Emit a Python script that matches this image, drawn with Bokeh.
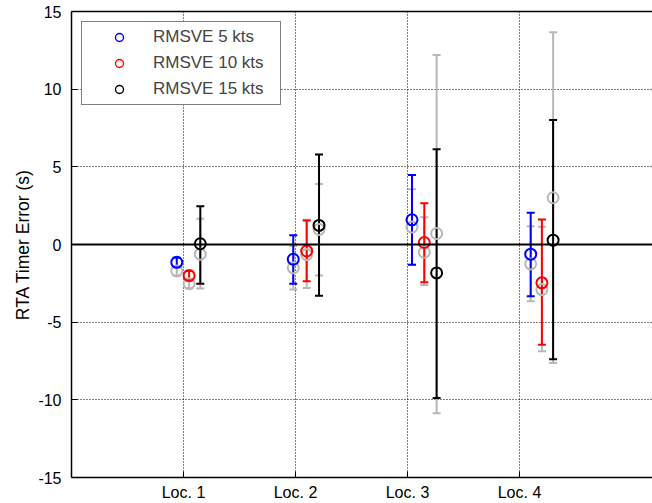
from bokeh.plotting import figure
from bokeh.models import (ColumnDataSource, Whisker, TeeHead, FixedTicker, Span,
                          LinearAxis, Legend, LegendItem, Range1d)
from bokeh.embed import file_html
from bokeh.resources import INLINE

# ---- data ----
loc_ticks = [1, 2, 3, 4]
loc_labels = ["Loc. 1", "Loc. 2", "Loc. 3", "Loc. 4"]
y_ticks = [-15, -10, -5, 0, 5, 10, 15]
y_tick_labels = ["-15", "-10", "-5", "0", "5", "10", "15"]

x5 = [0.94, 1.98, 3.04, 4.10]
x10 = [1.05, 2.10, 3.15, 4.20]
x15 = [1.15, 2.21, 3.26, 4.30]

mean5 = [-1.15, -0.95, 1.59, -0.62]
upper5 = [-0.85, 0.60, 4.47, 2.04]
lower5 = [-1.45, -2.53, -1.31, -3.33]

mean10 = [-2.00, -0.42, 0.13, -2.47]
upper10 = [-1.70, 1.55, 2.65, 1.61]
lower10 = [-2.30, -2.37, -2.43, -6.45]

mean15 = [0.05, 1.23, -1.83, 0.28]
upper15 = [2.47, 5.80, 6.13, 8.02]
lower15 = [-2.52, -3.30, -9.89, -7.38]

# gray (background) series
gmean5 = [-1.70, -1.50, 1.12, -1.25]
gupper5 = [-1.40, -0.10, 3.55, 1.18]
glower5 = [-2.00, -2.90, -1.31, -3.66]

gmean10 = [-2.52, -0.65, -0.50, -2.90]
gupper10 = [-2.22, 1.60, 1.76, 1.14]
glower10 = [-2.82, -2.80, -2.60, -6.88]

gmean15 = [-0.62, 0.97, 0.71, 3.01]
gupper15 = [1.66, 3.90, 12.20, 13.66]
glower15 = [-2.84, -2.00, -10.86, -7.63]

series_names = ["RMSVE 5 kts", "RMSVE 10 kts", "RMSVE 15 kts"]
series_colors = ["#0000ff", "#ff0000", "#000000"]
gray = "#b8b8b8"
FONT = "Liberation Sans"

p = figure(width=652, height=503, output_backend="svg", toolbar_location=None,
           x_range=Range1d(0, 5.1875), y_range=Range1d(-15, 15),
           min_border_left=71, min_border_right=0, min_border_top=11, min_border_bottom=26)
p.outline_line_color = None
p.background_fill_color = "white"

# axes
p.xaxis.ticker = FixedTicker(ticks=loc_ticks)
p.xaxis.major_label_overrides = {t: l for t, l in zip(loc_ticks, loc_labels)}
p.yaxis.ticker = FixedTicker(ticks=y_ticks)
p.yaxis.major_label_overrides = {t: l for t, l in zip(y_ticks, y_tick_labels)}
for ax in (p.xaxis[0], p.yaxis[0]):
    ax.major_tick_in = 6
    ax.major_tick_out = 0
    ax.minor_tick_in = 0
    ax.minor_tick_out = 0
    ax.axis_line_width = 1.5
    ax.axis_line_color = "black"
    ax.major_tick_line_color = "black"
    ax.major_label_text_font = FONT
    ax.major_label_text_font_size = "16px"
    ax.major_label_text_color = "black"
p.xaxis.major_label_standoff = 6
p.yaxis.major_label_standoff = 10
p.yaxis.axis_label = "RTA Timer Error (s)"
p.yaxis.axis_label_text_font = FONT
p.yaxis.axis_label_text_font_size = "17.5px"
p.yaxis.axis_label_text_font_style = "normal"
p.yaxis.axis_label_text_color = "black"
p.yaxis.axis_label_standoff = 2

top_axis = LinearAxis(ticker=FixedTicker(ticks=[]), major_tick_in=0, major_tick_out=0,
                      minor_tick_in=0, minor_tick_out=0, major_label_standoff=0,
                      axis_line_width=1.5)
p.add_layout(top_axis, "above")

# grids
p.xgrid.ticker = FixedTicker(ticks=loc_ticks)
p.ygrid.ticker = FixedTicker(ticks=[-10, -5, 5, 10])
for g in (p.xgrid[0], p.ygrid[0]):
    g.grid_line_color = "black"
    g.grid_line_dash = "1 2"
    g.grid_line_width = 1

p.add_layout(Span(location=0, dimension="width", line_color="black", line_width=2))


def add_series(xs, m, up, lo, color):
    src = ColumnDataSource(dict(x=xs, m=m, up=up, lo=lo))
    w = Whisker(source=src, base="x", upper="up", lower="lo", dimension="height",
                line_color=color, line_width=2,
                upper_head=TeeHead(size=8, line_color=color, line_width=2),
                lower_head=TeeHead(size=8, line_color=color, line_width=2))
    p.add_layout(w)
    p.scatter("x", "m", source=src, marker="circle", size=11, fill_color=None,
              line_color=color, line_width=2)


add_series(x5, gmean5, gupper5, glower5, gray)
add_series(x10, gmean10, gupper10, glower10, gray)
add_series(x15, gmean15, gupper15, glower15, gray)
add_series(x5, mean5, upper5, lower5, series_colors[0])
add_series(x10, mean10, upper10, lower10, series_colors[1])
add_series(x15, mean15, upper15, lower15, series_colors[2])

items = []
nan = float("nan")
for name, c in zip(series_names, series_colors):
    r = p.scatter(x=[nan], y=[nan], marker="circle", size=11, fill_color=None,
                  line_color=c, line_width=1.4)
    items.append(LegendItem(label=name, renderers=[r]))
legend = Legend(items=items, location="top_left", margin=10, padding=5, spacing=6,
                label_height=20, glyph_height=20, glyph_width=64, label_standoff=2,
                label_width=122, label_text_font=FONT, label_text_font_size="17px",
                border_line_color="black", border_line_width=1.2,
                background_fill_color="white", background_fill_alpha=1.0)
p.add_layout(legend, "center")

open("out.html", "w").write(file_html(p, INLINE))
